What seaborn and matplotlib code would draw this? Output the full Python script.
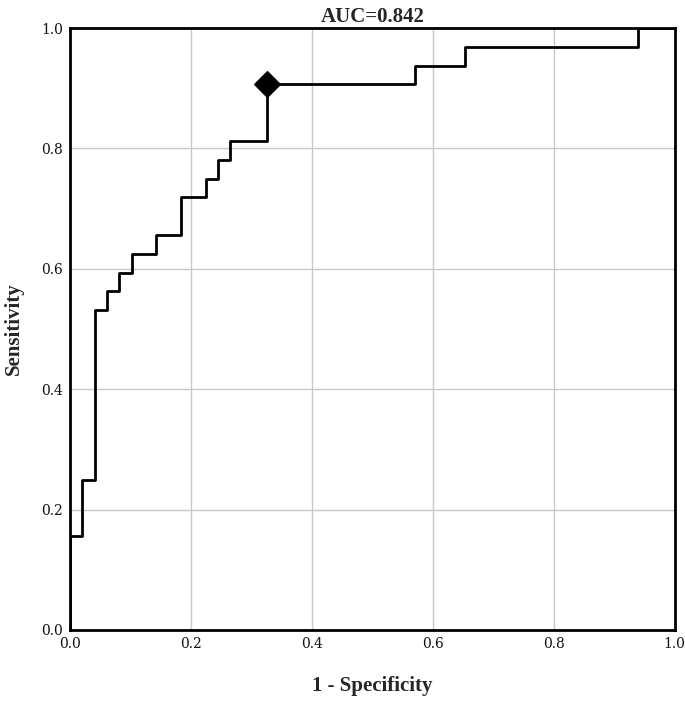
import pandas as pd
import seaborn as sns
import matplotlib.pyplot as plt

# -----------------------------
# ROC curve data
# -----------------------------

fpr = [0.0, 0.0, 0.0204, 0.0408, 0.0612, 0.0816, 0.1020, 0.1429, 0.1837,
       0.2245, 0.2449, 0.2653, 0.3265, 0.5714, 0.6531, 0.9388, 1.0]
tpr = [0.0, 0.15625, 0.25, 0.53125, 0.5625, 0.59375, 0.625, 0.65625, 0.71875,
       0.75, 0.78125, 0.8125, 0.90625, 0.9375, 0.96875, 1.0, 1.0]

cut_x = [0.3265]
cut_y = [0.90625]

title = "AUC=0.842"
ticks = [0.0, 0.2, 0.4, 0.6, 0.8, 1.0]

roc = pd.DataFrame({"fpr": fpr, "tpr": tpr})
cut = pd.DataFrame({"fpr": cut_x, "tpr": cut_y})

# -----------------------------
# Plot
# -----------------------------

sns.set_style("white")
plt.rcParams["font.family"] = ["Liberation Serif", "DejaVu Serif"]

fig = plt.figure(figsize=(6.85, 7.01), dpi=100)
ax = fig.add_axes([0.102, 0.1013, 0.883, 0.8587])

sns.lineplot(data=roc, x="fpr", y="tpr", estimator=None, sort=False,
             drawstyle="steps-post", color="black", linewidth=2, ax=ax, zorder=3)
sns.scatterplot(data=cut, x="fpr", y="tpr", marker="D", s=170, color="black",
                edgecolor="black", ax=ax, zorder=4)

ax.set_xlim(0, 1)
ax.set_ylim(0, 1)
ax.set_xticks(ticks)
ax.set_yticks(ticks)
ax.set_xticklabels([f"{t:.1f}" for t in ticks], fontsize=10, family="DejaVu Serif")
ax.set_yticklabels([f"{t:.1f}" for t in ticks], fontsize=10, family="DejaVu Serif")
ax.tick_params(length=0, pad=5, colors="#111111")
ax.grid(True, color="#c8c8c8", linewidth=1)
ax.set_axisbelow(True)

for s in ax.spines.values():
    s.set_color("black")
    s.set_linewidth(2)

ax.set_title(title, fontsize=15, fontweight="bold", pad=4)
ax.set_xlabel("1 - Specificity", fontsize=15, fontweight="bold", labelpad=18)
ax.set_ylabel("Sensitivity", fontsize=15, fontweight="bold", labelpad=12)

fig.savefig("out.png", dpi=100)
